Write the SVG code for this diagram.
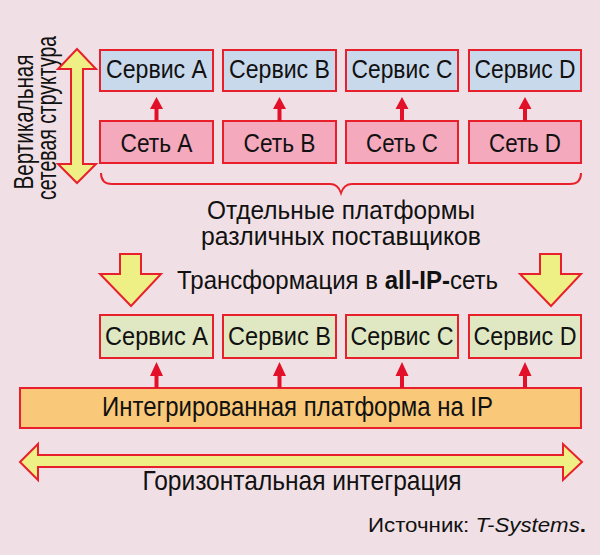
<svg xmlns="http://www.w3.org/2000/svg" width="600" height="555" viewBox="0 0 600 555">
<style>
text{font-family:"Liberation Sans Narrow","Liberation Sans",Arial,sans-serif;fill:#111;}
.box{stroke:#e8202c;stroke-width:2;}
.svc{fill:#c9d9ec;}
.net{fill:#f4a9bd;}
.svg2{fill:#dfe8c2;}
.plat{fill:#f9c878;}
.yel{fill:#eeef84;stroke:#e8202c;stroke-width:2;stroke-linejoin:miter;}
.lbl{font-size:26px;text-anchor:middle;}
.red{fill:#e3102a;}
</style>
<defs>
<path id="upArr" d="M0,0 L6.5,12 L2,12 L2,24 L-2,24 L-2,12 L-6.5,12 Z"/>
</defs>
<rect width="600" height="555" fill="#f0e0e5"/>

<g id="vertical-label">
<text transform="translate(33,122) rotate(-90)" style="font-size:27px" text-anchor="middle" textLength="135" lengthAdjust="spacingAndGlyphs">Вертикальная</text>
<text transform="translate(56,118) rotate(-90)" style="font-size:27px" text-anchor="middle" textLength="164" lengthAdjust="spacingAndGlyphs">сетевая структура</text>
</g>
<g id="vertical-arrow">
<path class="yel" d="M77,49 L96,69 L83,69 L83,164 L96,164 L77,183 L58,164 L71,164 L71,69 L58,69 Z"/>
</g>

<g id="svc-top-a"><rect class="box svc" x="100" y="50" width="113" height="41"/><text class="lbl" x="156.5" y="78" textLength="101" lengthAdjust="spacingAndGlyphs">Сервис A</text></g>
<g id="svc-top-b"><rect class="box svc" x="223" y="50" width="113" height="41"/><text class="lbl" x="279.5" y="78" textLength="101" lengthAdjust="spacingAndGlyphs">Сервис B</text></g>
<g id="svc-top-c"><rect class="box svc" x="346" y="50" width="112" height="41"/><text class="lbl" x="402" y="78" textLength="101" lengthAdjust="spacingAndGlyphs">Сервис C</text></g>
<g id="svc-top-d"><rect class="box svc" x="469" y="50" width="112" height="41"/><text class="lbl" x="525" y="78" textLength="101" lengthAdjust="spacingAndGlyphs">Сервис D</text></g>

<g id="net-a"><rect class="box net" x="100" y="121" width="113" height="42"/><text class="lbl" x="156.5" y="152" textLength="72" lengthAdjust="spacingAndGlyphs">Сеть A</text></g>
<g id="net-b"><rect class="box net" x="223" y="121" width="113" height="42"/><text class="lbl" x="279.5" y="152" textLength="72" lengthAdjust="spacingAndGlyphs">Сеть B</text></g>
<g id="net-c"><rect class="box net" x="346" y="121" width="112" height="42"/><text class="lbl" x="402" y="152" textLength="72" lengthAdjust="spacingAndGlyphs">Сеть C</text></g>
<g id="net-d"><rect class="box net" x="469" y="121" width="112" height="42"/><text class="lbl" x="525" y="152" textLength="72" lengthAdjust="spacingAndGlyphs">Сеть D</text></g>

<g id="brace">
<path d="M101,173 Q101,184 112,184 L330,184 Q338,184 341,193 Q344,184 352,184 L570,184 Q581,184 581,173" fill="none" stroke="#e8202c" stroke-width="2"/>
</g>
<g id="platforms-label">
<text class="lbl" x="341" y="219" style="font-size:25px" textLength="268" lengthAdjust="spacingAndGlyphs">Отдельные платформы</text>
<text class="lbl" x="341" y="245" style="font-size:25px" textLength="280" lengthAdjust="spacingAndGlyphs">различных поставщиков</text>
</g>

<g id="transform-arrows">
<path class="yel" d="M120,254 L141,254 L141,274 L161,274 L131,306 L100,274 L120,274 Z"/>
<path class="yel" d="M540,254 L561,254 L561,274 L581,274 L551,306 L520,274 L540,274 Z"/>
</g>
<g id="transform-label">
<text x="177" y="289" style="font-size:26px" textLength="321" lengthAdjust="spacingAndGlyphs">Трансформация в <tspan font-weight="bold">all-IP-</tspan>сеть</text>
</g>

<g id="svc-bot-a"><rect class="box svg2" x="100" y="315" width="113" height="43"/><text class="lbl" x="156.5" y="345" textLength="103" lengthAdjust="spacingAndGlyphs">Сервис A</text></g>
<g id="svc-bot-b"><rect class="box svg2" x="223" y="315" width="113" height="43"/><text class="lbl" x="279.5" y="345" textLength="103" lengthAdjust="spacingAndGlyphs">Сервис B</text></g>
<g id="svc-bot-c"><rect class="box svg2" x="346" y="315" width="112" height="43"/><text class="lbl" x="402" y="345" textLength="103" lengthAdjust="spacingAndGlyphs">Сервис C</text></g>
<g id="svc-bot-d"><rect class="box svg2" x="469" y="315" width="112" height="43"/><text class="lbl" x="525" y="345" textLength="103" lengthAdjust="spacingAndGlyphs">Сервис D</text></g>

<g id="platform"><rect class="box plat" x="20" y="388" width="561" height="40"/><text x="102" y="416" style="font-size:28px" textLength="391" lengthAdjust="spacingAndGlyphs">Интегрированная платформа на IP</text></g>

<g id="connectors" class="red">
<use href="#upArr" x="156.5" y="97"/>
<use href="#upArr" x="279.5" y="97"/>
<use href="#upArr" x="402" y="97"/>
<use href="#upArr" x="525" y="97"/>
<path d="M156.5,362 L163,376 L158.5,376 L158.5,388 L154.5,388 L154.5,376 L150,376 Z"/>
<path d="M279.5,362 L286,376 L281.5,376 L281.5,388 L277.5,388 L277.5,376 L273,376 Z"/>
<path d="M402,362 L408.5,376 L404,376 L404,388 L400,388 L400,376 L395.5,376 Z"/>
<path d="M525,362 L531.5,376 L527,376 L527,388 L523,388 L523,376 L518.5,376 Z"/>
</g>

<g id="horizontal-arrow">
<path class="yel" d="M20,462 L38,444 L38,455 L563,455 L563,444 L582,462 L563,480 L563,467 L38,467 L38,480 Z"/>
<text class="lbl" x="302" y="490" style="font-size:28px" textLength="319" lengthAdjust="spacingAndGlyphs">Горизонтальная интеграция</text>
</g>

<g id="source">
<text x="368" y="532" style="font-size:21px" textLength="218" lengthAdjust="spacingAndGlyphs">Источник: <tspan font-style="italic">T-Systems</tspan><tspan font-weight="bold">.</tspan></text>
</g>
</svg>
